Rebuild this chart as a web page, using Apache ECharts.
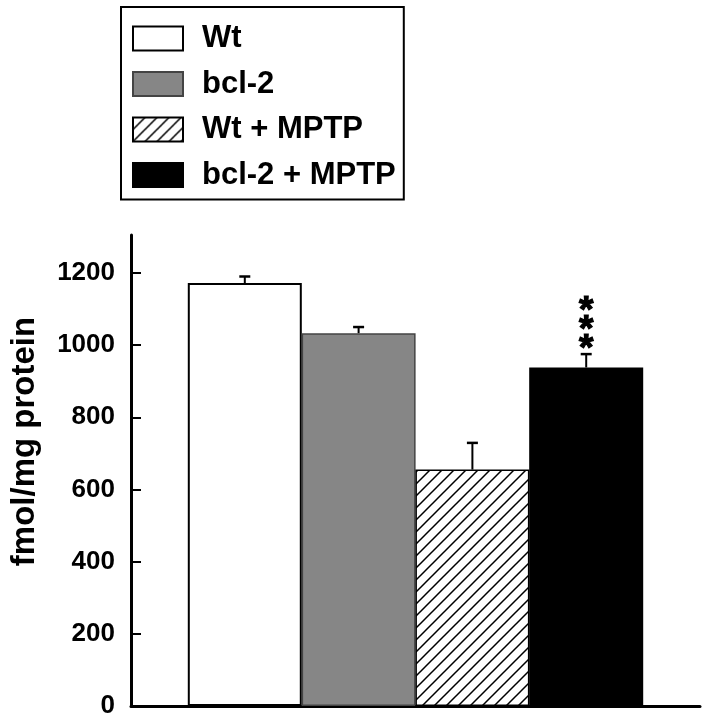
<!DOCTYPE html>
<html>
<head>
<meta charset="utf-8">
<script src="https://cdn.jsdelivr.net/npm/echarts@6/dist/echarts.min.js"></script>
<style>
html,body{margin:0;padding:0;background:#fff;}
#chart{width:705px;height:719px;}
</style>
</head>
<body>
<div id="chart"></div>
<script>
// ---- data ----
const categories = ['Wt', 'bcl-2', 'Wt + MPTP', 'bcl-2 + MPTP'];
const positions = [1, 2, 3, 4];
const values = [1172, 1033, 655, 938];
const errors = [18, 17, 74, 37];
const significance = ['', '', '', '***'];
const yTicks = [0, 200, 400, 600, 800, 1000, 1200];
const yMax = 1305;

// ---- styles ----
function hatchPattern() {
  const p = 12;
  const c = document.createElement('canvas');
  c.width = p; c.height = p;
  const g = c.getContext('2d');
  g.fillStyle = '#fff';
  g.fillRect(0, 0, p, p);
  g.strokeStyle = '#000';
  g.lineWidth = 1.5;
  g.beginPath();
  g.moveTo(-1, p + 1); g.lineTo(p + 1, -1);
  g.moveTo(-1, 1); g.lineTo(1, -1);
  g.moveTo(p - 1, p + 1); g.lineTo(p + 1, p - 1);
  g.stroke();
  return { image: c, repeat: 'repeat' };
}
const itemStyles = [
  { color: '#ffffff', borderColor: '#000', borderWidth: 2 },
  { color: '#868686', borderColor: '#444', borderWidth: 1.5 },
  { color: hatchPattern(), borderColor: '#000', borderWidth: 1.5 },
  { color: '#000000', borderColor: '#000', borderWidth: 1.5 }
];
const FONT = "'Liberation Sans', Arial, Helvetica, sans-serif";

const chart = echarts.init(document.getElementById('chart'), null, { renderer: 'canvas' });

const barSeries = categories.map((name, i) => ({
  name: name,
  type: 'bar',
  data: [[positions[i], values[i]]],
  barWidth: 114,
  barGap: '-100%',
  itemStyle: itemStyles[i],
  emphasis: { disabled: true }
}));

const errSeries = {
  type: 'custom',
  silent: true,
  z: 5,
  data: positions.map((x, i) => [x, values[i], errors[i]]),
  renderItem: function (params, api) {
    const x = api.value(0), v = api.value(1), e = api.value(2);
    const base = api.coord([x, v]);
    const top = api.coord([x, v + e]);
    const children = [
      { type: 'line', shape: { x1: base[0], y1: base[1], x2: top[0], y2: top[1] },
        style: { stroke: '#000', lineWidth: 2 } },
      { type: 'line', shape: { x1: top[0] - 5.5, y1: top[1], x2: top[0] + 5.5, y2: top[1] },
        style: { stroke: '#000', lineWidth: 2.5 } }
    ];
    const sig = significance[params.dataIndex];
    for (let k = 0; k < sig.length; k++) {
      children.push({
        type: 'text',
        style: {
          text: sig[k], x: top[0], y: top[1] - 13 - 19 * k + 8.5,
          align: 'center', verticalAlign: 'middle',
          font: 'bold 37px ' + FONT, fill: '#000',
          stroke: '#000', lineWidth: 1.2
        }
      });
    }
    return { type: 'group', children: children };
  }
};

chart.setOption({
  animation: false,
  backgroundColor: '#fff',
  grid: { left: 131, right: 5, top: 235, bottom: 12, containLabel: false },
  legend: {
    orient: 'vertical',
    left: 121, top: 7,
    data: categories,
    icon: 'rect',
    itemWidth: 50, itemHeight: 24, itemGap: 14.5,
    selectedMode: false,
    borderColor: '#000', borderWidth: 2,
    padding: [16, 8, 9, 11],
    textStyle: { fontFamily: FONT, fontWeight: 'bold', fontSize: 31, color: '#000',
                 padding: [0, 0, 0, 14] }
  },
  xAxis: {
    type: 'value', min: 0, max: 5,
    axisLine: { show: true, lineStyle: { color: '#000', width: 3 } },
    axisTick: { show: false }, axisLabel: { show: false }, splitLine: { show: false }
  },
  yAxis: {
    type: 'value', min: 0, max: yMax,
    name: 'fmol/mg protein',
    nameLocation: 'middle',
    nameGap: 90,
    nameTextStyle: { fontFamily: FONT, fontWeight: 'bold', fontSize: 33, color: '#000',
                     padding: [0, 0, 0, 58] },
    axisLine: { show: true, lineStyle: { color: '#000', width: 3 } },
    axisTick: { show: true, inside: true, length: 10, customValues: yTicks,
                lineStyle: { color: '#000', width: 2 } },
    axisLabel: { customValues: yTicks, margin: 16, fontFamily: FONT, fontWeight: 'bold',
                 fontSize: 26, color: '#000', formatter: function (v) { return String(v); } },
    splitLine: { show: false }
  },
  series: barSeries.concat([errSeries])
});
</script>
</body>
</html>
